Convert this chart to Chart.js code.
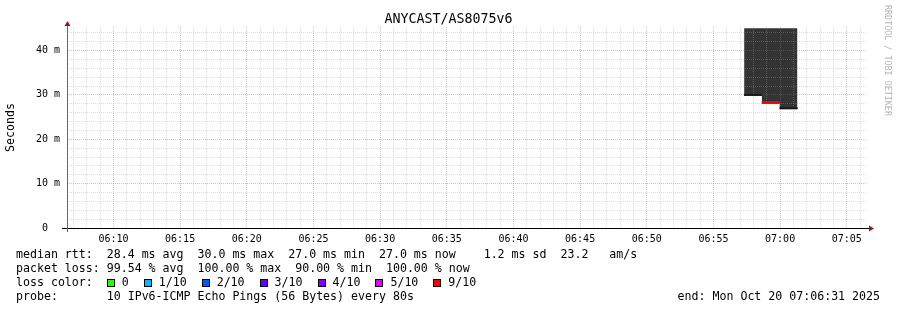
<!DOCTYPE html>
<html>
<head>
<meta charset="utf-8">
<script src="https://cdn.jsdelivr.net/npm/chart.js@4.4.1/dist/chart.umd.min.js"></script>
<style>
  html, body { margin: 0; padding: 0; background: #fff; }
  #wrap { position: relative; width: 897px; height: 310px; overflow: hidden;
          font-family: "DejaVu Sans Mono", monospace; color: #000; }
  #wrap canvas { position: absolute; left: 0; top: 0; }
  #title { position: absolute; left: 0; top: 11px; width: 897px; text-align: center;
           font-size: 13.3px; line-height: 16px; }
  #mark { position: absolute; left: 883px; top: 5px; writing-mode: vertical-rl;
          font-size: 8.4px; line-height: 10px; color: #b4b4b4; white-space: pre; }
  .row { position: absolute; left: 16px; font-size: 11.6px; line-height: 14px; white-space: pre; }
  .sw { display: inline-block; width: 6px; height: 6px; border: 1px solid #000;
        margin-right: 7px; vertical-align: -1px; }
  .lab { margin-right: 15px; }
  #end { position: absolute; right: 17px; font-size: 11.6px; line-height: 14px; white-space: pre; }
</style>
</head>
<body>
<div id="wrap">
  <canvas id="c" width="897" height="310"></canvas>
  <div id="title"></div>
  <div id="mark"></div>
  <div class="row" id="r1" style="top:247px"></div>
  <div class="row" id="r2" style="top:261px"></div>
  <div class="row" id="r3" style="top:275px"></div>
  <div class="row" id="r4" style="top:289px"></div>
  <div id="end" style="top:289px"></div>
</div>
<script>
// ---- data ----
const chartTitle = 'ANYCAST/AS8075v6';
const rangeStart = '06:06:31';
const rangeEnd = '07:06:31';
const xTickLabels = ['06:10', '06:15', '06:20', '06:25', '06:30', '06:35', '06:40',
                     '06:45', '06:50', '06:55', '07:00', '07:05'];
const yTickValues = [0, 10, 20, 30, 40];
const yTickLabels = ['0  ', '10 m', '20 m', '30 m', '40 m'];
const yMax = 45.3;

// one entry per 80s probe round (last time closes the final step)
const stepTimes = ['06:57:18', '06:58:38', '06:59:58', '07:01:18'];
const medianRtt = [30.0, 28.3, 27.0];      // ms
const smokeMax  = [45.0, 45.0, 45.0];      // ms
const lossCount = [10, 9, 10];             // of 10 pings

const lossLegendLabels = ['0', '1/10', '2/10', '3/10', '4/10', '5/10', '9/10'];
const lossLegendColors = ['#26ff00', '#00b8ff', '#0059ff', '#5e00ff', '#7e00ff', '#dd00ff', '#ff0000'];

const statLines = [
  'median rtt:  28.4 ms avg  30.0 ms max  27.0 ms min  27.0 ms now    1.2 ms sd  23.2   am/s',
  'packet loss: 99.54 % avg  100.00 % max  90.00 % min  100.00 % now',
];
const probeLine = 'probe:       10 IPv6-ICMP Echo Pings (56 Bytes) every 80s';
const endLine = 'end: Mon Oct 20 07:06:31 2025';
const watermark = 'RRDTOOL / TOBI OETIKER';

// ---- helpers ----
const toSec = s => { const p = s.split(':').map(Number); return p[0] * 3600 + p[1] * 60 + (p[2] || 0); };
const lossColor = n => n >= 10 ? '#1a1a1a' : n >= 6 ? '#ff0000' : lossLegendColors[n];
const stepped = vals => stepTimes.map((t, i) => ({ x: toSec(t), y: vals[Math.min(i, vals.length - 1)] }));

const xMin = toSec(rangeStart), xMax = toSec(rangeEnd);
const minuteTicks = [];
for (let t = Math.ceil(xMin / 60) * 60; t <= xMax; t += 60) minuteTicks.push(t);
const majorX = xTickLabels.map(toSec);

// ---- html text ----
document.getElementById('title').textContent = chartTitle;
document.getElementById('mark').textContent = watermark;
document.getElementById('r1').textContent = statLines[0];
document.getElementById('r2').textContent = statLines[1];
document.getElementById('r4').textContent = probeLine;
document.getElementById('end').textContent = endLine;
const r3 = document.getElementById('r3');
r3.appendChild(document.createTextNode('loss color:  '));
lossLegendLabels.forEach((l, i) => {
  const sw = document.createElement('span');
  sw.className = 'sw';
  sw.style.background = lossLegendColors[i];
  r3.appendChild(sw);
  const lab = document.createElement('span');
  lab.className = 'lab';
  lab.textContent = l;
  r3.appendChild(lab);
});

// ---- median lines above the grid, then arrows + axis lines ----
const axisArrows = {
  id: 'axisArrows',
  afterDraw(chart) {
    const { ctx, chartArea: a } = chart;
    ctx.save();
    ctx.beginPath();
    ctx.rect(a.left, a.top, a.right - a.left, a.bottom - a.top);
    ctx.clip();
    chart.data.datasets.forEach((ds, i) => {
      if (ds.medianLine) chart.getDatasetMeta(i).controller.draw();
    });
    ctx.restore();

    ctx.save();
    ctx.lineWidth = 1;
    ctx.strokeStyle = '#000';
    ctx.beginPath();
    ctx.moveTo(a.left - 5, a.bottom + 0.5);
    ctx.lineTo(a.right + 2, a.bottom + 0.5);
    ctx.stroke();
    ctx.strokeStyle = '#666';
    ctx.beginPath();
    ctx.moveTo(a.left + 0.5, a.top - 2);
    ctx.lineTo(a.left + 0.5, a.bottom + 4);
    ctx.stroke();
    ctx.fillStyle = '#961b1b';
    ctx.beginPath();
    ctx.moveTo(a.left + 0.5, a.top - 6);
    ctx.lineTo(a.left - 2.5, a.top - 1);
    ctx.lineTo(a.left + 3.5, a.top - 1);
    ctx.closePath();
    ctx.fill();
    ctx.beginPath();
    ctx.moveTo(a.right + 7, a.bottom + 0.5);
    ctx.lineTo(a.right + 2, a.bottom - 2.5);
    ctx.lineTo(a.right + 2, a.bottom + 3.5);
    ctx.closePath();
    ctx.fill();
    ctx.restore();
  }
};

const gridMinor = 'rgba(160,160,160,0.36)';
const gridMajor = 'rgba(255,60,60,0.42)';
const tickFont = { family: "'DejaVu Sans Mono', monospace", size: 10 };

// one short horizontal median segment per probe round, coloured by its loss
const medianSets = lossCount.map((n, i) => ({
  label: 'median ' + stepTimes[i],
  medianLine: true,
  data: [{ x: toSec(stepTimes[i]), y: medianRtt[i] }, { x: toSec(stepTimes[i + 1]), y: medianRtt[i] }],
  borderColor: lossColor(n),
  borderWidth: n >= 10 ? 2 : 3,
  borderCapStyle: 'butt',
  pointRadius: 0,
  fill: false,
}));

new Chart(document.getElementById('c'), {
  type: 'line',
  data: {
    datasets: [
      {
        label: 'smoke top',
        data: stepped(smokeMax),
        stepped: true,
        borderColor: 'rgba(0,0,0,0)',
        pointRadius: 0,
        fill: false,
      },
      {
        label: 'smoke',
        data: stepped(medianRtt),
        stepped: true,
        borderColor: 'rgba(0,0,0,0)',
        backgroundColor: '#333333',
        pointRadius: 0,
        fill: '-1',
      },
      ...medianSets
    ]
  },
  options: {
    responsive: false,
    animation: false,
    devicePixelRatio: 1,
    layout: { padding: { top: 27, right: 30, left: 0, bottom: 0 } },
    plugins: { legend: { display: false }, tooltip: { enabled: false }, title: { display: false } },
    scales: {
      x: {
        type: 'linear',
        min: xMin,
        max: xMax,
        afterBuildTicks: axis => { axis.ticks = minuteTicks.map(v => ({ value: v })); },
        afterFit: s => { s.height = 82; },
        grid: {
          z: 1,
          drawTicks: false,
          color: c => (c.tick && Math.round(c.tick.value) % 300 === 0) ? gridMajor : gridMinor,
        },
        border: { display: false, dash: [1, 1] },
        ticks: {
          autoSkip: false,
          maxRotation: 0,
          padding: 5,
          color: '#000',
          font: tickFont,
          callback: v => { const i = majorX.indexOf(v); return i >= 0 ? xTickLabels[i] : ''; },
        }
      },
      y: {
        min: 0,
        max: yMax,
        afterFit: s => { s.width = 67; },
        grid: {
          z: 1,
          drawTicks: false,
          color: c => (c.tick && Math.round(c.tick.value) % 10 === 0) ? gridMajor : gridMinor,
        },
        border: { display: false, dash: [1, 1] },
        ticks: {
          stepSize: 2,
          includeBounds: false,
          autoSkip: false,
          padding: 7,
          color: '#000',
          font: tickFont,
          callback: v => { const i = yTickValues.indexOf(v); return i >= 0 ? yTickLabels[i] : ''; },
        },
        title: {
          display: true,
          text: 'Seconds',
          color: '#000',
          font: { family: "'DejaVu Sans Mono', monospace", size: 11.6 },
          padding: { top: 4, bottom: 4 },
        }
      }
    }
  },
  plugins: [axisArrows]
});
</script>
</body>
</html>
